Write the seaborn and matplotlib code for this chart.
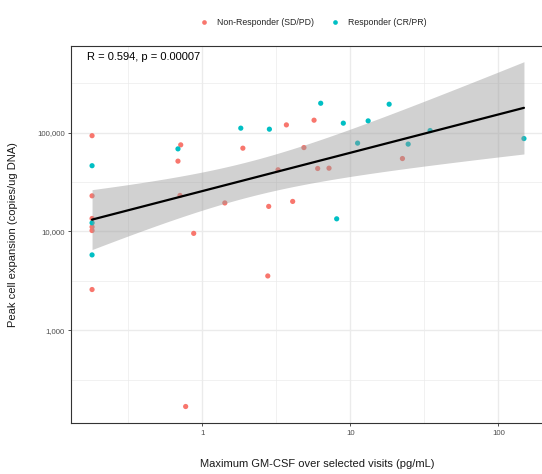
import numpy as np
import pandas as pd
import matplotlib
matplotlib.use("Agg")
import matplotlib.pyplot as plt
import seaborn as sns
from matplotlib.ticker import FixedLocator, FuncFormatter, NullFormatter

# ---- data ----
nr_gmcsf = [0.18, 0.18, 0.18, 0.18, 0.18, 0.18, 0.715, 0.685, 0.707, 0.875, 0.772,
            1.42, 1.88, 2.81, 2.77, 3.25, 3.70, 4.08, 4.86, 5.69, 6.02, 7.18, 22.5]
nr_expansion = [93000, 22900, 13500, 11100, 10200, 2580, 75100, 51400, 23100, 9550, 169,
                19400, 69500, 17900, 3540, 42000, 119600, 20100, 70500, 133400, 43300, 43600, 54600]
r_gmcsf = [0.18, 0.18, 0.18, 0.685, 1.82, 2.84, 6.31, 8.09, 8.97, 11.2, 13.2, 18.3,
           24.6, 34.6, 149]
r_expansion = [46200, 12200, 5780, 68400, 110800, 108200, 198000, 13400, 124500, 78200,
               131300, 193600, 76400, 104800, 87000]
groups = ["Non-Responder (SD/PD)", "Responder (CR/PR)"]
colors = ["#F8766D", "#00BFC4"]
annotation = "R = 0.594, p = 0.00007"
x_ticks = [1, 10, 100]
y_ticks = [1000, 10000, 100000]

df = pd.DataFrame({
    "gmcsf": nr_gmcsf + r_gmcsf,
    "expansion": nr_expansion + r_expansion,
    "group": [groups[0]] * len(nr_gmcsf) + [groups[1]] * len(r_gmcsf),
})

sns.set_theme(style="white")
plt.rcParams["font.family"] = ["Liberation Sans", "DejaVu Sans"]

fig = plt.figure(figsize=(5.42, 4.74), dpi=100)
# panel runs slightly past the right edge of the image, as in the reference
ax = fig.add_axes([71 / 542, 1 - 423.3 / 474, (563 - 71) / 542, (423.3 - 46) / 474])

ax.set_xscale("log")
ax.set_yscale("log")
ax.set_xlim(10 ** -0.887, 10 ** 2.437)
ax.set_ylim(10 ** 2.058, 10 ** 5.876)

# grid
ax.xaxis.set_major_locator(FixedLocator(x_ticks))
ax.xaxis.set_minor_locator(FixedLocator([10 ** -0.5, 10 ** 0.5, 10 ** 1.5]))
ax.yaxis.set_major_locator(FixedLocator(y_ticks))
ax.yaxis.set_minor_locator(FixedLocator([10 ** 2.5, 10 ** 3.5, 10 ** 4.5, 10 ** 5.5]))
ax.xaxis.set_major_formatter(FuncFormatter(lambda v, p: f"{v:,.0f}"))
ax.yaxis.set_major_formatter(FuncFormatter(lambda v, p: f"{v:,.0f}"))
ax.xaxis.set_minor_formatter(NullFormatter())
ax.yaxis.set_minor_formatter(NullFormatter())
ax.grid(which="major", color="#EBEBEB", lw=1.0, zorder=0)
ax.grid(which="minor", color="#EBEBEB", lw=0.5, zorder=0)
ax.set_axisbelow(True)

sns.scatterplot(data=df, x="gmcsf", y="expansion", hue="group", hue_order=groups,
                palette=colors, s=14, linewidth=0, ax=ax, zorder=2)

# linear fit in log-log space with 95% CI (as in geom_smooth(method="lm"))
lx = np.log10(df["gmcsf"].values)
ly = np.log10(df["expansion"].values)
n = len(lx)
b, a = np.polyfit(lx, ly, 1)
resid = ly - (a + b * lx)
s2 = np.sum(resid ** 2) / (n - 2)
sxx = np.sum((lx - lx.mean()) ** 2)
xs = np.linspace(lx.min(), lx.max(), 100)
fit = a + b * xs
se = np.sqrt(s2 * (1 / n + (xs - lx.mean()) ** 2 / sxx))
tval = 2.028
ax.fill_between(10 ** xs, 10 ** (fit - tval * se), 10 ** (fit + tval * se),
                color="#999999", alpha=0.45, lw=0, zorder=3)
ax.plot(10 ** xs, 10 ** fit, color="black", lw=1.6, zorder=4)

ax.text(10 ** -0.78, 10 ** 5.765, annotation, fontsize=8.0, color="black",
        ha="left", va="center")

for sp in ax.spines.values():
    sp.set_visible(True)
    sp.set_color("#333333")
    sp.set_linewidth(0.8)

ax.tick_params(axis="both", which="major", length=2.5, width=0.6, color="#333333",
               labelsize=5.6, labelcolor="#4D4D4D", pad=2, bottom=True, left=True)
ax.tick_params(axis="both", which="minor", length=0)

ax.set_xlabel("Maximum GM-CSF over selected visits (pg/mL)", fontsize=8.0, labelpad=16,
              color="#1A1A1A")
ax.set_ylabel("Peak cell expansion (copies/ug DNA)", fontsize=8.0, labelpad=14,
              color="#1A1A1A")

sns.move_legend(ax, "lower center", bbox_to_anchor=(0.487, 1.03), ncol=2, frameon=False,
                title=None, fontsize=6.3, markerscale=0.9, handletextpad=0.5,
                columnspacing=1.4)

fig.savefig("out.png", dpi=100)
